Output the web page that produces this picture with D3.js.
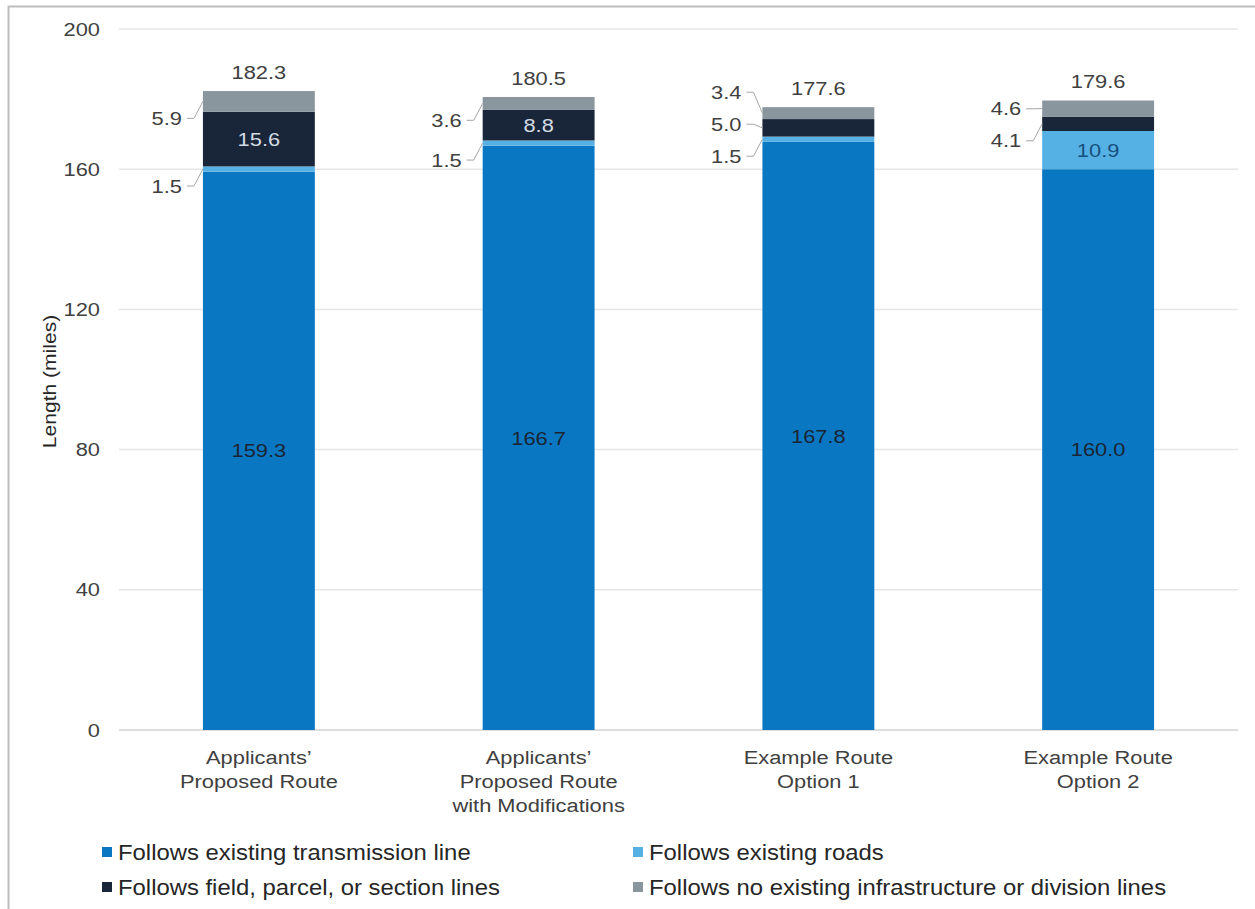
<!DOCTYPE html>
<html>
<head>
<meta charset="utf-8">
<script src="https://cdn.jsdelivr.net/npm/d3@7"></script>
<style>
  body { margin: 0; background: #fff; }
  svg text { font-family: "Liberation Sans", Arial, sans-serif; }
</style>
</head>
<body>
<svg id="chart"></svg>
<script>
// data
var categories = [
    ["Applicants\u2019", "Proposed Route"],
    ["Applicants\u2019", "Proposed Route", "with Modifications"],
    ["Example Route", "Option 1"],
    ["Example Route", "Option 2"]
];
var seriesNames = [
    "Follows existing transmission line",
    "Follows existing roads",
    "Follows field, parcel, or section lines",
    "Follows no existing infrastructure or division lines"
];
var transmission = [159.3, 166.7, 167.8, 160.0];
var roads = [1.5, 1.5, 1.5, 10.9];
var fieldLines = [15.6, 8.8, 5.0, 4.1];
var noInfra = [5.9, 3.6, 3.4, 4.6];
var totals = [182.3, 180.5, 177.6, 179.6];
var yTicks = [0, 40, 80, 120, 160, 200];

var colors = ["#0a77c3", "#55b0e4", "#19263a", "#8a969e"];
var insideText = ["#1a2533", "#16507e", "#d3dbe3", "#ffffff"];

var svg = d3.select("#chart");
var dims = { width: 1255, height: 909, left: 119, right: 1238, top: 29, bottom: 730 };
svg.attr("width", dims.width).attr("height", dims.height);

// the source font is wider than Liberation Sans, so stretch text a bit
var SX = 1.15;
function label(g, x, y, txt, o) {
    o = o || {};
    return g.append("text")
        .attr("transform", `translate(${x},${y})${o.rot ? " rotate(" + o.rot + ")" : ""} scale(${o.sx || SX},1)`)
        .attr("dy", "0.35em")
        .attr("text-anchor", o.anchor || "middle")
        .attr("font-size", o.size || 19)
        .attr("fill", o.fill || "#404040")
        .text(txt);
}

// frame around the figure (only top and left visible in the picture)
svg.append("rect")
    .attr("x", 8.5).attr("y", 6.5)
    .attr("width", 1400).attr("height", 1000)
    .attr("fill", "none").attr("stroke", "#bdbdbd").attr("stroke-width", 2);

var series = [transmission, roads, fieldLines, noInfra];
var rows = categories.map((c, i) => ({
    i: i,
    segs: series.map(s => s[i])
}));

var xScale = d3.scaleBand()
    .domain(d3.range(categories.length))
    .range([dims.left, dims.right])
    .paddingInner(0.6)
    .paddingOuter(0.3);

var yScale = d3.scaleLinear()
    .domain([0, 200])
    .range([dims.bottom, dims.top]);

// gridlines
svg.append("g")
    .selectAll("line")
    .data(yTicks)
    .enter()
    .append("line")
    .attr("x1", dims.left).attr("x2", dims.right)
    .attr("y1", d => yScale(d)).attr("y2", d => yScale(d))
    .attr("stroke", d => d === 0 ? "#d4d4d4" : "#e6e6e6")
    .attr("stroke-width", 1.5);

// y tick labels
var tickG = svg.append("g");
yTicks.forEach(t => label(tickG, 100, yScale(t), t, { anchor: "end" }));

// y title
label(svg, 50, (dims.top + dims.bottom) / 2 + 2, "Length (miles)",
    { rot: -90, size: 18, sx: 1.17, fill: "#262626" });

// stacked bars
var barG = svg.append("g");
rows.forEach(r => {
    var x0 = xScale(r.i), bw = xScale.bandwidth();
    var base = 0;
    var outside = [];
    r.segs.forEach((v, k) => {
        var y0 = base, y1 = base + v;
        base = y1;
        barG.append("rect")
            .attr("x", x0).attr("width", bw)
            .attr("y", yScale(y1))
            .attr("height", yScale(y0) - yScale(y1))
            .attr("fill", colors[k]);
        var cy = yScale((y0 + y1) / 2);
        if (v >= 8) {
            label(barG, x0 + bw / 2, cy, v.toFixed(1), { fill: insideText[k] });
        } else {
            outside.push({ v: v, cy: cy });
        }
    });

    // outside labels, pushed up so they do not collide
    var prev = Infinity;
    outside.forEach(o => {
        var ly = Math.min(o.cy + 17, prev - 32);
        prev = ly;
        label(barG, x0 - 21, ly, o.v.toFixed(1), { anchor: "end" });
        barG.append("polyline")
            .attr("points", [[x0 - 16, ly], [x0 - 9, ly], [x0, o.cy]].map(p => p.join(",")).join(" "))
            .attr("fill", "none")
            .attr("stroke", "#a6a6a6")
            .attr("stroke-width", 1);
    });

    // total on top
    label(barG, x0 + bw / 2, yScale(d3.sum(r.segs)) - 19, totals[r.i].toFixed(1));
});

// category labels
var catG = svg.append("g");
categories.forEach((lines, i) => {
    lines.forEach((ln, j) => {
        label(catG, xScale(i) + xScale.bandwidth() / 2, 757 + j * 24, ln);
    });
});

// legend
var legend = svg.append("g");
seriesNames.forEach((name, k) => {
    var lx = k % 2 === 0 ? 102 : 633;
    var ly = k < 2 ? 852 : 887;
    legend.append("rect")
        .attr("x", lx).attr("y", ly - 5)
        .attr("width", 10).attr("height", 10)
        .attr("fill", colors[k]);
    label(legend, lx + 16, ly, name, { anchor: "start", size: 21.5, sx: 1.11, fill: "#262626" });
});
</script>
</body>
</html>
